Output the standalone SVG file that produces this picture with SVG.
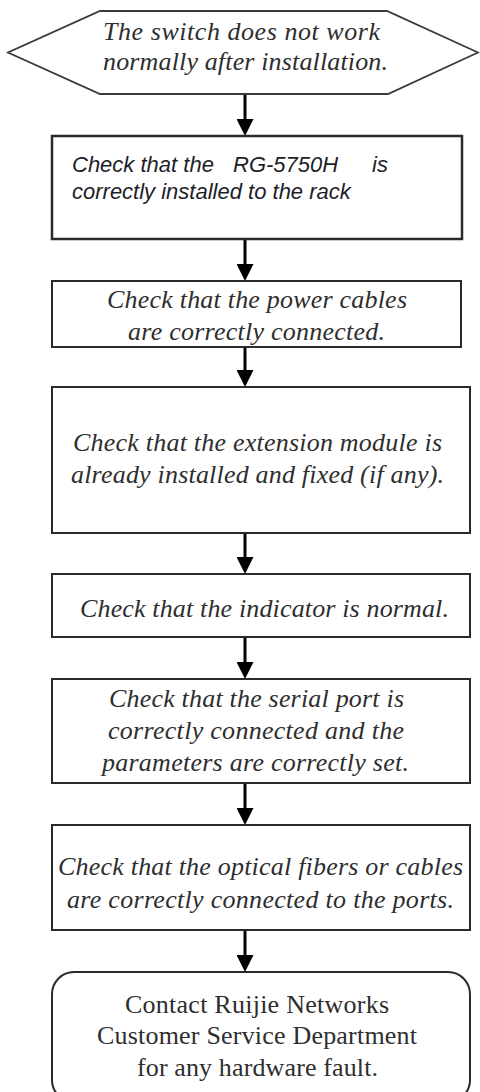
<svg xmlns="http://www.w3.org/2000/svg" width="480" height="1092" viewBox="0 0 480 1092">
<defs>
<marker id="ah" viewBox="0 0 17 17" refX="5" refY="8.5" markerWidth="17" markerHeight="17" markerUnits="userSpaceOnUse" orient="auto">
<path d="M0,0 L17,8.5 L0,17 Z" fill="#000"/>
</marker>
<style>
.box{fill:#fff;stroke:#2a2a2a;stroke-width:2}
.t{font-family:"Liberation Serif","Times New Roman",serif;font-style:italic;font-size:26px;fill:#2e2e2e;text-anchor:middle}
.r{font-family:"Liberation Serif","Times New Roman",serif;font-size:26px;fill:#2e2e2e;text-anchor:middle}
.a{font-family:"Liberation Sans",Arial,sans-serif;font-style:italic;font-size:22px;fill:#1e1e28}
.c{stroke:#000;stroke-width:3;fill:none;marker-end:url(#ah)}
</style>
</defs>
<rect width="480" height="1092" fill="#fff"/>
<g id="connectors">
<line class="c" x1="245" y1="94" x2="245" y2="124"/>
<line class="c" x1="245" y1="239" x2="245" y2="269"/>
<line class="c" x1="245" y1="347" x2="245" y2="375"/>
<line class="c" x1="245" y1="533" x2="245" y2="562"/>
<line class="c" x1="245" y1="637" x2="245" y2="667"/>
<line class="c" x1="245" y1="783" x2="245" y2="813"/>
<line class="c" x1="245" y1="930" x2="245" y2="960"/>
</g>
<g id="start">
<polygon class="box" points="100,11 387,11 478,52.5 388,94 100,94 8,52.5" style="stroke:#3a3a3a;stroke-width:1.8"/>
<text class="t" x="241.5" y="40" textLength="277" lengthAdjust="spacing">The switch does not work</text>
<text class="t" x="245.5" y="70" textLength="285" lengthAdjust="spacing">normally after installation.</text>
</g>
<g id="step1">
<rect class="box" x="52" y="136" width="410" height="103" style="stroke-width:2.5"/>
<text class="a" y="171.5"><tspan x="72">Check that the</tspan><tspan x="233">RG-5750H</tspan><tspan x="372">is</tspan></text>
<text class="a" x="72" y="198.5">correctly installed to the rack</text>
</g>
<g id="step2">
<rect class="box" x="52" y="281" width="409" height="66"/>
<text class="t" x="257" y="308" textLength="300" lengthAdjust="spacing">Check that the power cables</text>
<text class="t" x="256.5" y="340" textLength="257" lengthAdjust="spacing">are correctly connected.</text>
</g>
<g id="step3">
<rect class="box" x="52" y="387" width="418" height="146"/>
<text class="t" x="257.5" y="451" textLength="369" lengthAdjust="spacing">Check that the extension module is</text>
<text class="t" x="257.5" y="483" textLength="373" lengthAdjust="spacing">already installed and fixed (if any).</text>
</g>
<g id="step4">
<rect class="box" x="52" y="574" width="418" height="63"/>
<text class="t" x="264.5" y="617" textLength="369" lengthAdjust="spacing">Check that the indicator is normal.</text>
</g>
<g id="step5">
<rect class="box" x="52" y="679" width="418" height="104"/>
<text class="t" x="256.5" y="707" textLength="295" lengthAdjust="spacing">Check that the serial port is</text>
<text class="t" x="256" y="739" textLength="296" lengthAdjust="spacing">correctly connected and the</text>
<text class="t" x="255.5" y="771" textLength="307" lengthAdjust="spacing">parameters are correctly set.</text>
</g>
<g id="step6">
<rect class="box" x="52" y="825" width="418" height="105"/>
<text class="t" x="260.5" y="875" textLength="405" lengthAdjust="spacing">Check that the optical fibers or cables</text>
<text class="t" x="260.5" y="908" textLength="387" lengthAdjust="spacing">are correctly connected to the ports.</text>
</g>
<g id="end">
<rect class="box" x="52" y="972" width="418" height="130" rx="22" ry="22"/>
<text class="r" x="257" y="1012.5" textLength="264" lengthAdjust="spacing">Contact Ruijie Networks</text>
<text class="r" x="257" y="1044" textLength="320" lengthAdjust="spacing">Customer Service Department</text>
<text class="r" x="257.5" y="1076" textLength="241" lengthAdjust="spacing">for any hardware fault.</text>
</g>
</svg>
